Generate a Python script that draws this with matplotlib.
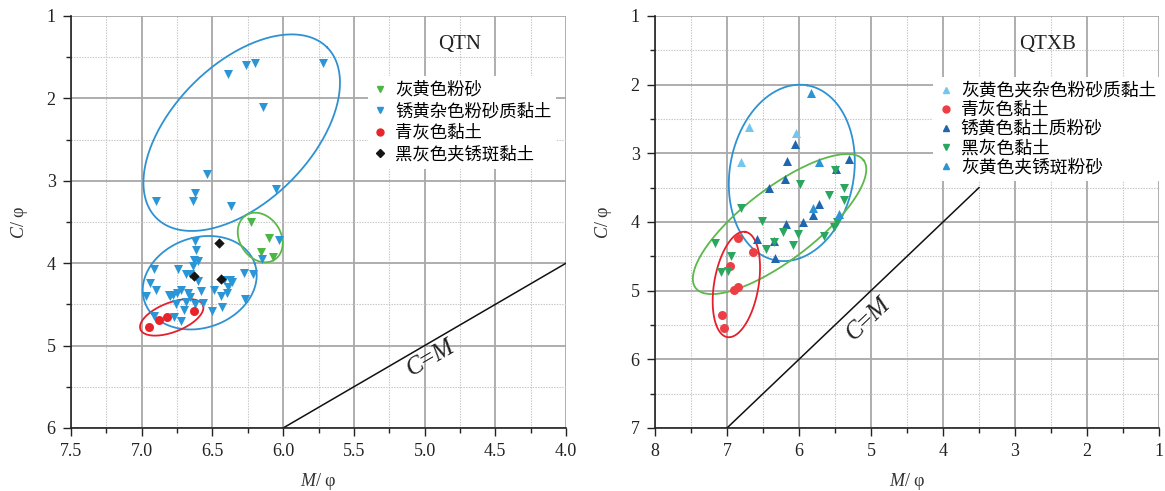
import numpy as np
import matplotlib
matplotlib.use('Agg')
import matplotlib.pyplot as plt
from matplotlib.lines import Line2D
from matplotlib.ticker import MultipleLocator, FormatStrFormatter

plt.rcParams['font.family'] = ['Liberation Serif', 'Noto Sans CJK SC', 'DejaVu Sans']
plt.rcParams['mathtext.fontset'] = 'custom'
plt.rcParams['mathtext.rm'] = 'Liberation Serif'
plt.rcParams['mathtext.it'] = 'Liberation Serif:italic'

# ---------------- data: QTN (left) ----------------
qtn_green_x = [6.23, 6.10, 6.16, 6.075]
qtn_green_y = [3.50, 3.69, 3.86, 3.92]

qtn_blue_x = [6.39, 6.26, 6.20, 5.72, 6.14, 6.54, 6.62, 6.90, 6.64, 6.37, 6.05,
              6.03, 6.15,
              6.62, 6.615, 6.63, 6.60, 6.64, 6.91, 6.74, 6.69, 6.66, 6.60, 6.94,
              6.90, 6.81, 6.78, 6.75, 6.72, 6.67, 6.66, 6.58, 6.49, 6.42, 6.375,
              6.36, 6.39, 6.40, 6.44, 6.28, 6.21, 6.97, 6.76, 6.69, 6.625, 6.57,
              6.43, 6.50, 6.27, 6.70, 6.77, 6.72, 6.91, 6.80]
qtn_blue_y = [1.70, 1.59, 1.57, 1.57, 2.11, 2.92, 3.15, 3.25, 3.25, 3.31, 3.10,
              3.72, 3.95,
              3.73, 3.84, 3.96, 3.97, 4.03, 4.07, 4.07, 4.13, 4.13, 4.22, 4.24,
              4.32, 4.38, 4.38, 4.36, 4.33, 4.36, 4.41, 4.34, 4.32, 4.20, 4.20,
              4.23, 4.29, 4.36, 4.40, 4.125, 4.13, 4.40, 4.49, 4.47, 4.49, 4.48,
              4.53, 4.58, 4.44, 4.57, 4.65, 4.70, 4.64, 4.40]

qtn_red_x = [6.95, 6.88, 6.82, 6.63]
qtn_red_y = [4.77, 4.69, 4.65, 4.58]

qtn_black_x = [6.455, 6.63, 6.436]
qtn_black_y = [3.75, 4.15, 4.19]

qtn_labels = ['灰黄色粉砂', '锈黄杂色粉砂质黏土', '青灰色黏土', '黑灰色夹锈斑黏土']

# ---------------- data: QTXB (right) ----------------
qtxb_lb_x = [6.69, 6.04, 6.80]
qtxb_lb_y = [2.62, 2.71, 3.13]

qtxb_red_x = [6.85, 6.64, 6.96, 6.85, 6.90, 7.07, 7.04]
qtxb_red_y = [4.23, 4.44, 4.64, 4.95, 4.99, 5.35, 5.54]

qtxb_db_x = [6.05, 6.17, 5.30, 5.49, 6.20, 6.42, 5.72, 5.81, 6.18, 5.95, 6.58, 6.35, 6.34]
qtxb_db_y = [2.86, 3.11, 3.08, 3.23, 3.37, 3.50, 3.74, 3.90, 4.03, 4.00, 4.25, 4.27, 4.52]

qtxb_gr_x = [5.50, 5.98, 5.58, 5.37, 5.37, 6.81, 6.52, 5.47, 5.52, 6.22, 6.01, 5.65,
             7.16, 6.35, 6.08, 6.46, 6.95, 7.09, 6.99]
qtxb_gr_y = [3.24, 3.45, 3.60, 3.50, 3.68, 3.79, 3.99, 4.00, 4.07, 4.15, 4.17, 4.21,
             4.31, 4.29, 4.33, 4.39, 4.50, 4.73, 4.71]

qtxb_mb_x = [5.83, 5.72, 5.80, 5.45]
qtxb_mb_y = [2.12, 3.13, 3.80, 3.89]

qtxb_labels = ['灰黄色夹杂色粉砂质黏土', '青灰色黏土', '锈黄色黏土质粉砂', '黑灰色黏土', '灰黄色夹锈斑粉砂']

# C = M reference line extents
cm_left = [6.0, 4.0]
cm_right = [7.0, 3.5]

# ellipses: centre (data), semi-axes (px), angle (screen deg)
ell_left = [
    (6.293, 2.416, 120.7, 68.9, 45.0, '#2e92d2'),
    (6.59, 4.237, 58.3, 45.1, 19.4, '#2e92d2'),
    (6.788, 4.657, 33.5, 14.7, 21.2, '#e5202a'),
    (6.162, 3.688, 26.4, 20.6, 123.2, '#5bb94a'),
]
ell_right = [
    (6.10, 3.285, 88.9, 62.0, 79.85, '#2e92d2'),
    (6.27, 4.03, 105.5, 36.0, 37.3, '#5bb94a'),
    (6.87, 4.91, 53.4, 22.2, 80.2, '#e5202a'),
]

W, H = 1165, 491
fig = plt.figure(figsize=(W / 100, H / 100), dpi=100)
axL = fig.add_axes([71 / W, 63 / H, 495 / W, 412 / H])
axR = fig.add_axes([655 / W, 63 / H, 504 / W, 412 / H])

TICK_FS = 13
MS = 42


def style_axes(ax, xlim, ylim, xmaj, xmin, fmt):
    ax.set_xlim(*xlim)
    ax.set_ylim(*ylim)
    ax.xaxis.set_major_locator(MultipleLocator(xmaj))
    ax.xaxis.set_minor_locator(MultipleLocator(xmin))
    ax.yaxis.set_major_locator(MultipleLocator(1))
    ax.yaxis.set_minor_locator(MultipleLocator(0.5))
    ax.xaxis.set_major_formatter(FormatStrFormatter(fmt))
    ax.yaxis.set_major_formatter(FormatStrFormatter('%d'))
    for s in ['top', 'right']:
        ax.spines[s].set_visible(False)
    for s in ['left', 'bottom']:
        ax.spines[s].set_linewidth(1.2)
        ax.spines[s].set_color('#222222')
    ax.tick_params(which='major', direction='out', length=6, width=1.0,
                   labelsize=TICK_FS, colors='#222222', pad=5)
    ax.tick_params(which='minor', direction='out', length=3.5, width=1.0, colors='#222222')
    ax.grid(which='major', color='#a8a8a8', linewidth=1.3, zorder=0)
    ax.grid(which='minor', color='#c4c4c4', linewidth=0.8, linestyle=(0, (1.2, 1.2)), zorder=0)
    ax.set_axisbelow(True)
    ax.set_xlabel('$M$/ φ', fontsize=13, labelpad=8, color='#333333')
    ax.set_ylabel('$C$/ φ', fontsize=13, labelpad=12, color='#333333')


def draw_ellipse(ax, cx, cy, a, b, ang, color):
    bbox = ax.get_window_extent()
    x0, x1 = ax.get_xlim()
    y0, y1 = ax.get_ylim()
    ppx = bbox.width / (x1 - x0)
    ppy = bbox.height / (y1 - y0)
    t = np.linspace(0, 2 * np.pi, 300)
    th = np.radians(ang)
    dx = a * np.cos(t) * np.cos(th) - b * np.sin(t) * np.sin(th)
    dy = a * np.cos(t) * np.sin(th) + b * np.sin(t) * np.cos(th)
    ax.plot(cx + dx / ppx, cy + dy / ppy, color=color, lw=1.3, zorder=2)


style_axes(axL, (7.5, 4.0), (6, 1), 0.5, 0.25, '%.1f')
style_axes(axR, (8, 1), (7, 1), 1, 0.5, '%d')

# ---- left panel ----
axL.plot(cm_left, cm_left, color='#111111', lw=1.1, zorder=2)
for e in ell_left:
    draw_ellipse(axL, *e)
axL.scatter(qtn_green_x, qtn_green_y, marker='v', s=MS, color='#4bb545', lw=0, zorder=3)
axL.scatter(qtn_blue_x, qtn_blue_y, marker='v', s=MS, color='#2a96d6', lw=0, zorder=3)
axL.scatter(qtn_red_x, qtn_red_y, marker='o', s=MS, color='#e8242a', lw=0, zorder=3)
axL.scatter(qtn_black_x, qtn_black_y, marker='D', s=28, color='#151515', lw=0, zorder=3)
axL.text(4.95, 5.16, '$C$=$M$', rotation=30.2, fontsize=18, ha='center', va='center',
         color='#222222', rotation_mode='anchor')
axL.text(0.785, 0.93, 'QTN', transform=axL.transAxes, fontsize=15, ha='center',
         va='center', color='#222222')
hL = [Line2D([], [], marker='v', ls='', color='#4bb545', ms=5),
      Line2D([], [], marker='v', ls='', color='#2a96d6', ms=5),
      Line2D([], [], marker='o', ls='', color='#e8242a', ms=5),
      Line2D([], [], marker='D', ls='', color='#151515', ms=4.5)]
legL = axL.legend(hL, qtn_labels, loc='upper left', bbox_to_anchor=(0.60, 0.855),
                  frameon=True, facecolor='white', edgecolor='none', framealpha=1,
                  fancybox=False, handlelength=0.8, handletextpad=0.45,
                  labelspacing=0.2, borderpad=0.3, borderaxespad=0,
                  prop={'family': ['Noto Sans CJK SC'], 'size': 12.5})
legL.set_zorder(5)

# ---- right panel ----
axR.plot(cm_right, cm_right, color='#111111', lw=1.1, zorder=2)
for e in ell_right:
    draw_ellipse(axR, *e)
axR.scatter(qtxb_lb_x, qtxb_lb_y, marker='^', s=MS, color='#74c6ee', lw=0, zorder=3)
axR.scatter(qtxb_red_x, qtxb_red_y, marker='o', s=MS, color='#ec3f45', lw=0, zorder=3)
axR.scatter(qtxb_db_x, qtxb_db_y, marker='^', s=MS, color='#1f66ae', lw=0, zorder=3)
axR.scatter(qtxb_gr_x, qtxb_gr_y, marker='v', s=MS, color='#2aa65f', lw=0, zorder=3)
axR.scatter(qtxb_mb_x, qtxb_mb_y, marker='^', s=MS, color='#2b94d6', lw=0, zorder=3)
axR.text(5.02, 5.42, '$C$=$M$', rotation=43.6, fontsize=18, ha='center', va='center',
         color='#222222', rotation_mode='anchor')
axR.text(0.778, 0.93, 'QTXB', transform=axR.transAxes, fontsize=15, ha='center',
         va='center', color='#222222')
hR = [Line2D([], [], marker='^', ls='', color='#74c6ee', ms=5),
      Line2D([], [], marker='o', ls='', color='#ec3f45', ms=5),
      Line2D([], [], marker='^', ls='', color='#1f66ae', ms=5),
      Line2D([], [], marker='v', ls='', color='#2aa65f', ms=5),
      Line2D([], [], marker='^', ls='', color='#2b94d6', ms=5)]
legR = axR.legend(hR, qtxb_labels, loc='upper left', bbox_to_anchor=(0.552, 0.853),
                  frameon=True, facecolor='white', edgecolor='none', framealpha=1,
                  fancybox=False, handlelength=0.8, handletextpad=0.45,
                  labelspacing=0.06, borderpad=0.3, borderaxespad=0,
                  prop={'family': ['Noto Sans CJK SC'], 'size': 12.8})
legR.set_zorder(5)

fig.savefig('out.png', dpi=100)
